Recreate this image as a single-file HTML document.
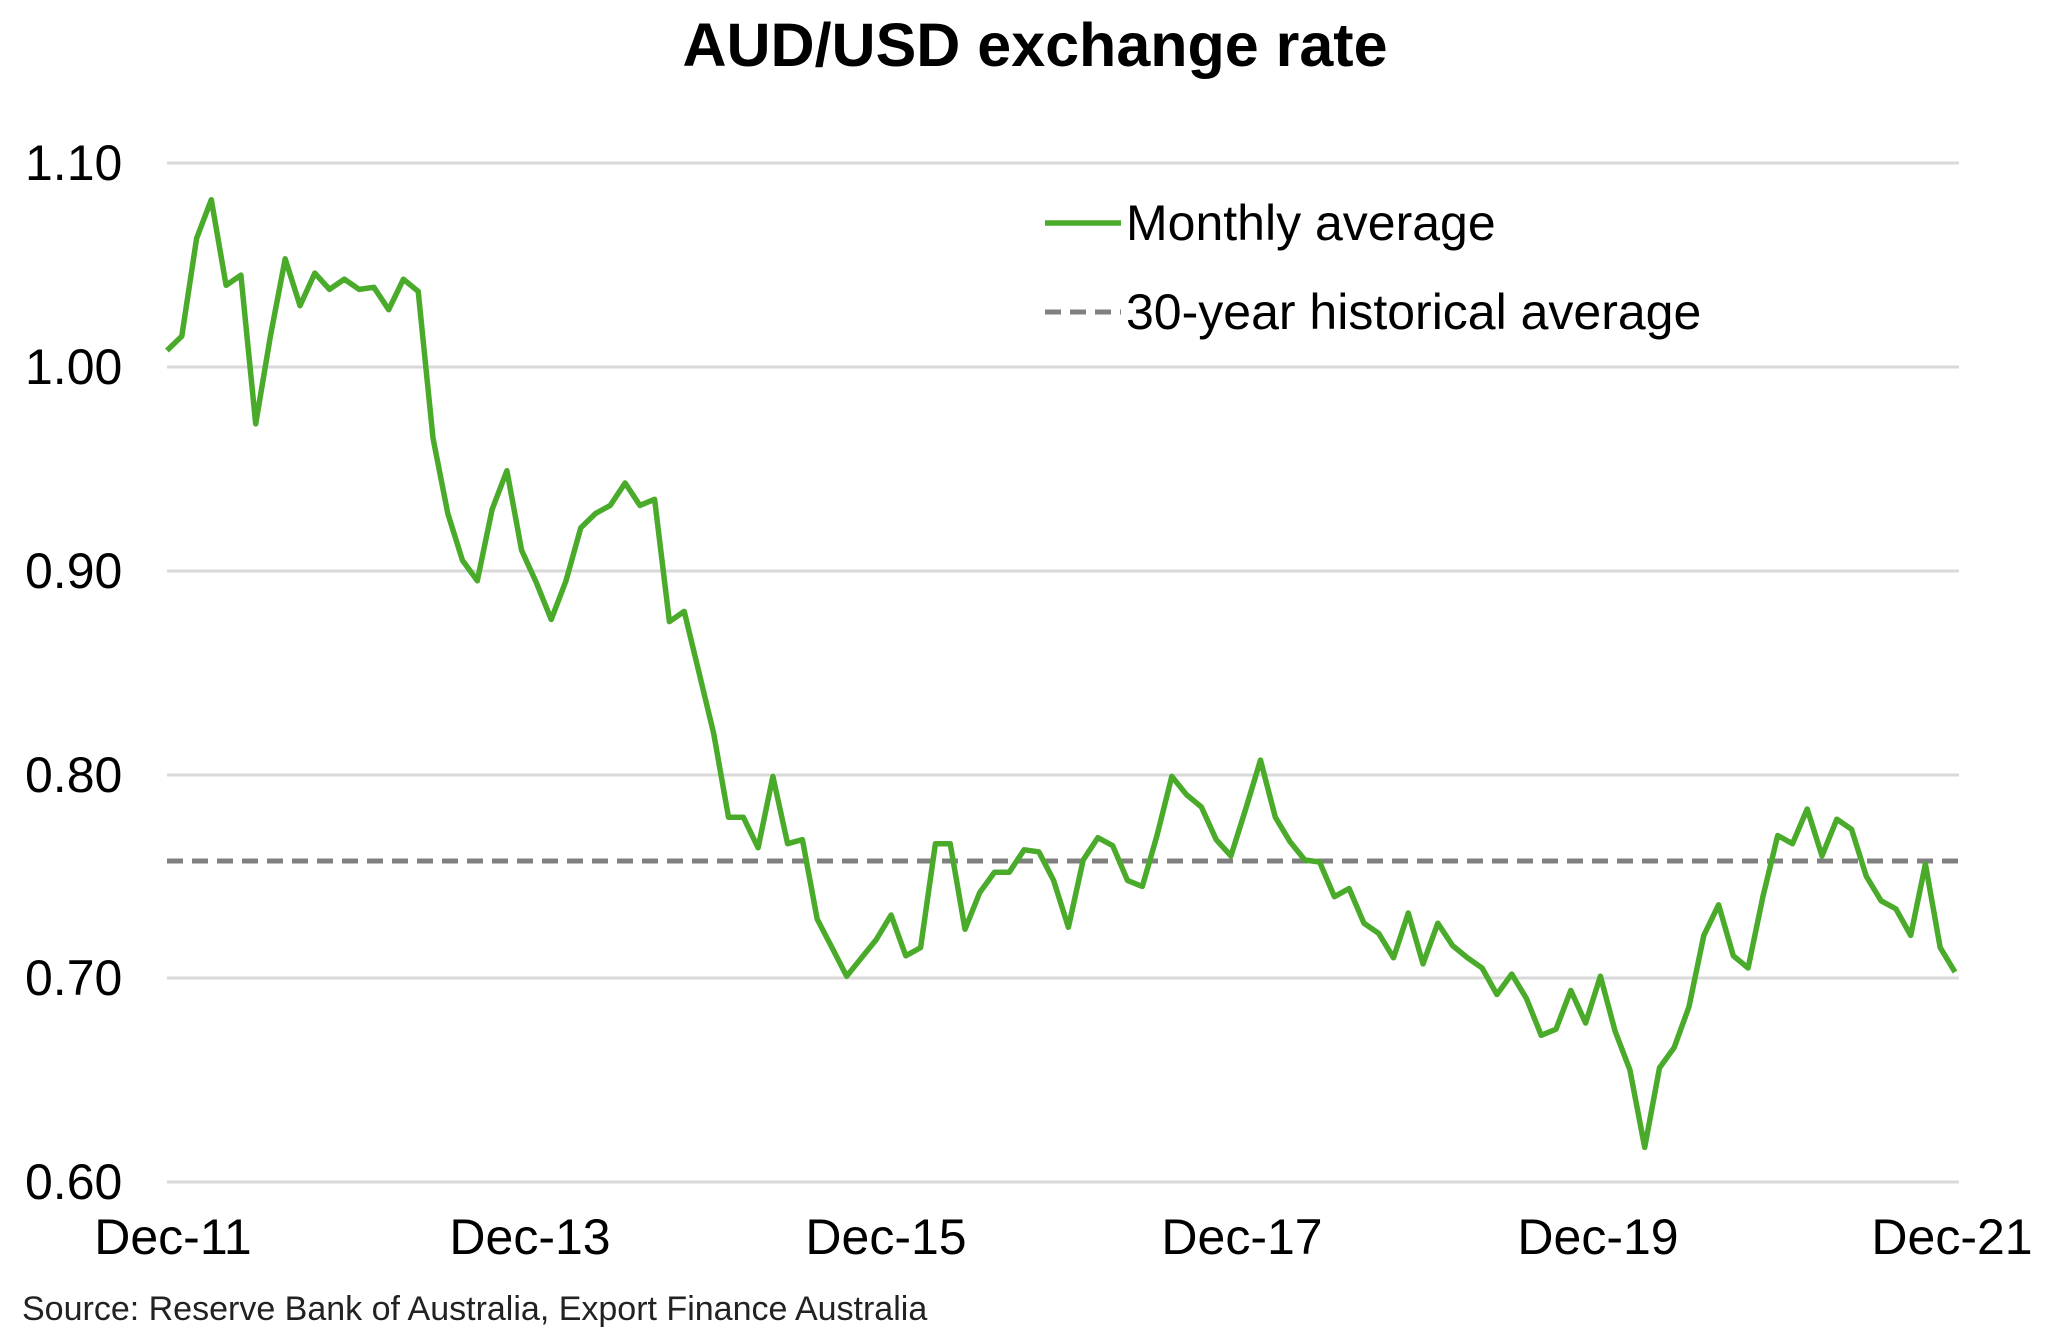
<!DOCTYPE html>
<html><head><meta charset="utf-8"><style>
html,body{margin:0;padding:0;background:#fff;}
svg{display:block;font-family:"Liberation Sans",Arial,sans-serif;}
</style></head><body>
<svg id="c" width="2048" height="1336" viewBox="0 0 2048 1336" xmlns="http://www.w3.org/2000/svg">
<rect width="2048" height="1336" fill="#fff"/>
<text x="1035" y="66" text-anchor="middle" font-size="61" font-weight="bold" fill="#000">AUD/USD exchange rate</text>
<g stroke="#d9d9d9" stroke-width="3">
<line x1="167" x2="1959" y1="163" y2="163"/>
<line x1="167" x2="1959" y1="367" y2="367"/>
<line x1="167" x2="1959" y1="571" y2="571"/>
<line x1="167" x2="1959" y1="775" y2="775"/>
<line x1="167" x2="1959" y1="978" y2="978"/>
<line x1="167" x2="1959" y1="1182" y2="1182"/>
</g>
<g font-size="50" fill="#000">
<text x="25" y="180">1.10</text>
<text x="25" y="384">1.00</text>
<text x="25" y="588">0.90</text>
<text x="25" y="792">0.80</text>
<text x="25" y="995">0.70</text>
<text x="25" y="1199">0.60</text>
</g>
<g font-size="50" fill="#000" text-anchor="middle">
<text x="173" y="1254">Dec-11</text>
<text x="530" y="1254">Dec-13</text>
<text x="886" y="1254">Dec-15</text>
<text x="1242" y="1254">Dec-17</text>
<text x="1598" y="1254">Dec-19</text>
<text x="1952" y="1254">Dec-21</text>
</g>
<line x1="167" x2="1959" y1="861" y2="861" stroke="#808080" stroke-width="5" stroke-dasharray="16 9"/>
<polyline id="p" fill="none" stroke="#4aab2b" stroke-width="5.5" stroke-linejoin="round" points=""/>
<line x1="1045" x2="1121" y1="223" y2="223" stroke="#4aab2b" stroke-width="5.5"/>
<text x="1126" y="240" font-size="50" fill="#000">Monthly average</text>
<line x1="1045" x2="1121" y1="312" y2="312" stroke="#808080" stroke-width="5" stroke-dasharray="16 9"/>
<text x="1126" y="329" font-size="50" fill="#000">30-year historical average</text>
<text x="22" y="1320" font-size="34" fill="#222">Source: Reserve Bank of Australia, Export Finance Australia</text>
</svg>
<script>
var v=[1.008,1.015,1.063,1.082,1.040,1.045,0.972,1.015,1.053,1.030,1.046,1.038,1.043,1.038,1.039,1.028,1.043,1.037,0.965,0.928,0.905,0.895,0.930,0.949,0.910,0.894,0.876,0.895,0.921,0.928,0.932,0.943,0.932,0.935,0.875,0.880,0.850,0.820,0.779,0.779,0.764,0.799,0.766,0.768,0.729,0.715,0.701,0.710,0.719,0.731,0.711,0.715,0.766,0.766,0.724,0.742,0.752,0.752,0.763,0.762,0.748,0.725,0.758,0.769,0.765,0.748,0.745,0.770,0.799,0.790,0.784,0.768,0.760,0.783,0.807,0.779,0.767,0.758,0.757,0.740,0.744,0.727,0.722,0.710,0.732,0.707,0.727,0.716,0.710,0.705,0.692,0.702,0.690,0.672,0.675,0.694,0.678,0.701,0.674,0.655,0.617,0.656,0.666,0.686,0.721,0.736,0.711,0.705,0.740,0.770,0.766,0.783,0.760,0.778,0.773,0.750,0.738,0.734,0.721,0.756,0.715,0.703];
var n=v.length,pts=[];
for(var i=0;i<n;i++){var x=167+i*(1955-167)/(n-1);var y=163+(1.10-v[i])*2038;pts.push(x.toFixed(1)+","+y.toFixed(1));}
document.getElementById("p").setAttribute("points",pts.join(" "));
</script>
</body></html>
